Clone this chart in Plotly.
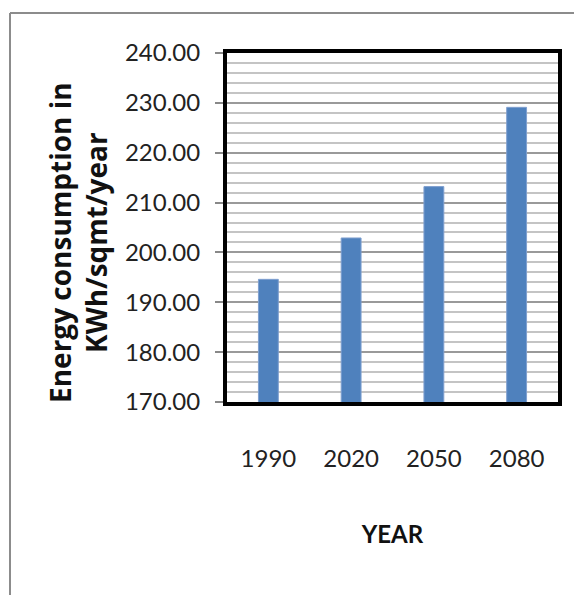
import plotly.graph_objects as go

years = ["1990", "2020", "2050", "2080"]
energy = [194.6, 202.9, 213.2, 229.1]
y_ticks = [170, 180, 190, 200, 210, 220, 230, 240]
y_tick_labels = ["170.00", "180.00", "190.00", "200.00", "210.00", "220.00", "230.00", "240.00"]
y_title = "<b>Energy consumption in<br>KWh/sqmt/year</b>"
x_title = "<b>YEAR</b>"

FONT = "Lato, Noto Sans, sans-serif"

fig = go.Figure()
fig.add_trace(go.Bar(
    x=years, y=energy,
    marker=dict(color="#4f81bd", line=dict(color="#7f9fcf", width=1)),
    width=0.24,
))

# plot area geometry (pixels) for items outside the plot
L, R, T, B = 227, 558, 53, 402
W, H = R - L, B - T
def px(x):
    return (x - L) / W
def py(y):
    return (B - y) / H

fig.update_layout(
    width=574, height=595,
    margin=dict(l=L, r=574 - R, t=T, b=595 - B),
    paper_bgcolor="white", plot_bgcolor="white",
    showlegend=False,
    font=dict(family=FONT, color="#222222"),
    shapes=[
        dict(type="line", xref="paper", yref="paper", x0=px(10), x1=px(574), y0=py(13), y1=py(13),
             line=dict(color="#8c8c8c", width=2), layer="below"),
        dict(type="line", xref="paper", yref="paper", x0=px(10), x1=px(10), y0=py(13), y1=py(595),
             line=dict(color="#8c8c8c", width=2), layer="below"),
    ],
    annotations=[
        dict(text=y_title, xref="paper", yref="paper", x=px(78), y=py(243),
             xanchor="center", yanchor="middle", textangle=-90, showarrow=False,
             font=dict(size=28, family="Open Sans, sans-serif", color="#111111")),
    ],
)
fig.update_xaxes(
    showline=True, linecolor="black", linewidth=4, mirror=True,
    showgrid=False, ticks="",
    tickfont=dict(size=24, family=FONT, color="#222222"),
    ticklabelstandoff=32,
    title=dict(text=x_title, font=dict(size=24, family=FONT, color="#111111"), standoff=56),
)
fig.update_yaxes(
    range=[170, 240],
    tickvals=y_ticks, ticktext=y_tick_labels,
    showline=True, linecolor="black", linewidth=4, mirror=True,
    ticks="outside", ticklen=8, tickcolor="#888888", tickwidth=1.5,
    tickfont=dict(size=24, family=FONT, color="#222222"),
    ticklabelstandoff=10,
    showgrid=True, gridcolor="#9a9a9a", gridwidth=2,
    minor=dict(dtick=2, showgrid=True, gridcolor="#c4c4c4", gridwidth=2),
    zeroline=False,
)

fig.write_html("out.html")
